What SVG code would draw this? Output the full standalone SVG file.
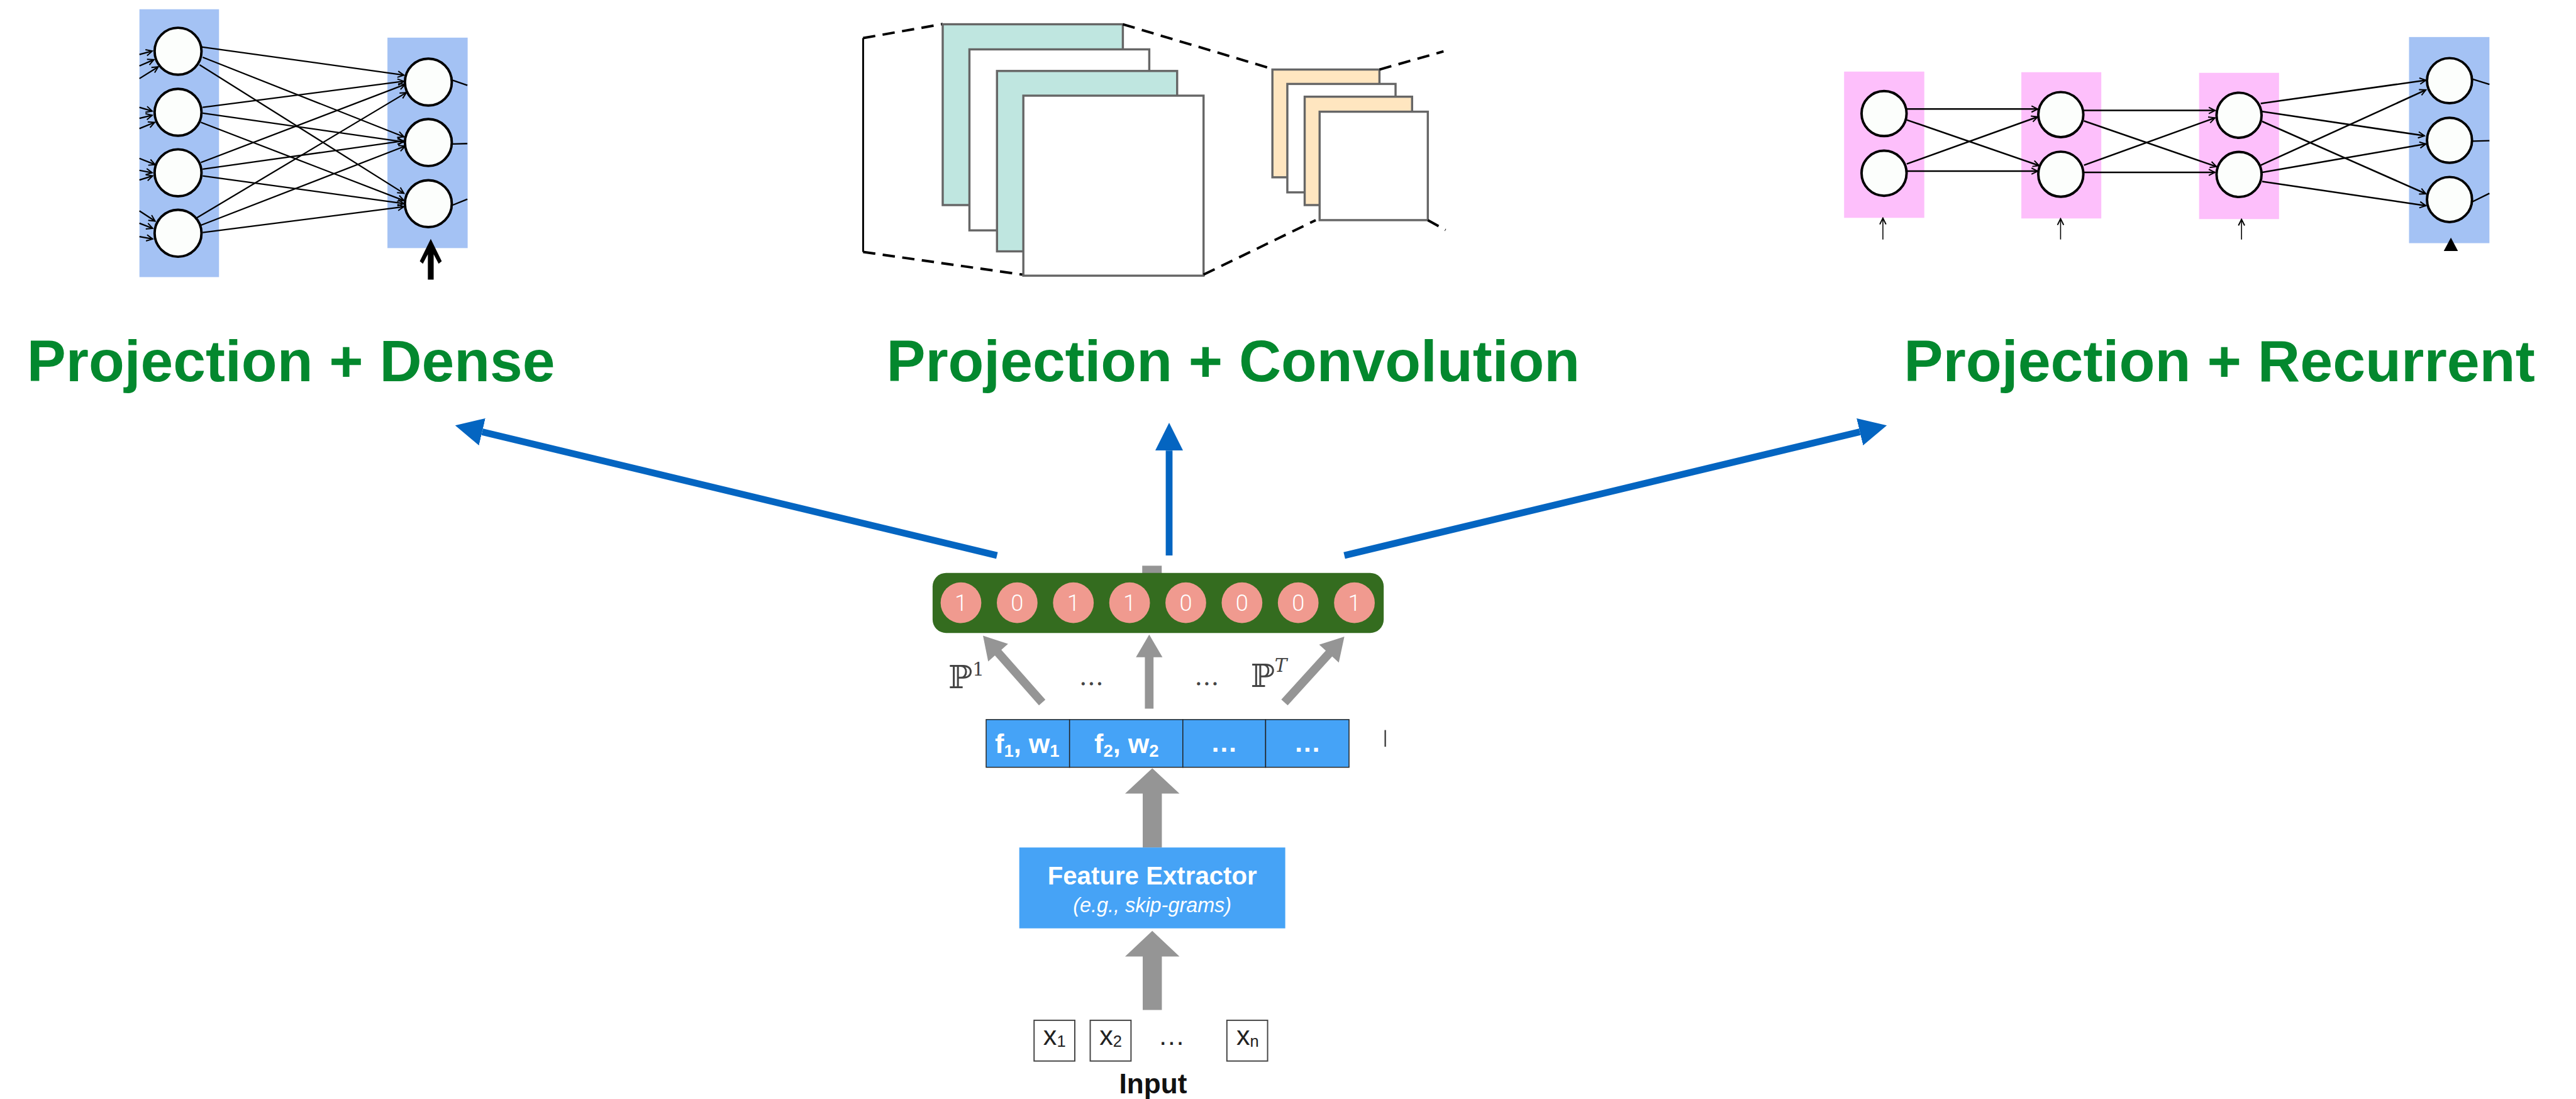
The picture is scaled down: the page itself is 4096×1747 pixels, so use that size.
<svg xmlns="http://www.w3.org/2000/svg" width="4096" height="1747" viewBox="0 0 4096 1747">
<defs>
<style>
  .title{font-family:"Liberation Sans",Arial,sans-serif;font-weight:bold;font-size:95px;fill:#03882E}
  .neuron{fill:#FCFEFC;stroke:#000;stroke-width:4}
  .edge{stroke:#000;stroke-width:2.3;fill:none;marker-end:url(#vhead)}
  .edge3{stroke:#000;stroke-width:2.6;fill:none;marker-end:url(#vhead)}
  .thin{stroke:#000;stroke-width:1.6;fill:none;marker-end:url(#vhead)}
  .stub{stroke:#000;stroke-width:2.4;fill:none}
  .dense-bg{fill:#A4C2F4}
  .rnn-bg{fill:#FDBFFB}
  .fmap-g{fill:#BFE6E0;stroke:#666;stroke-width:3.5}
  .fmap-o{fill:#FFE6C0;stroke:#666;stroke-width:3.5}
  .fmap-w{fill:#FFFFFF;stroke:#666;stroke-width:3.5}
  .dash{stroke:#000;stroke-width:4;stroke-dasharray:20 12;fill:none}
  .proj{stroke:#0465C1;stroke-width:11;fill:none;marker-end:url(#bhead)}
  .gray{fill:#959595}
  .bit{fill:#F09A8F}
  .bit-t{font-family:Roboto,"Liberation Sans",sans-serif;font-weight:300;font-size:37px;fill:#FFFFFF;text-anchor:middle}
  .cell{fill:#45A3F7;stroke:#222;stroke-width:1.5}
  .cell-t{font-family:"Liberation Sans",Arial,sans-serif;font-weight:bold;font-size:44px;fill:#FFFFFF;text-anchor:middle}
  .math{font-family:"DejaVu Serif","DejaVu Sans",serif;fill:#444}
  .in-box{fill:#FFFFFF;stroke:#444;stroke-width:2}
  .in-t{font-family:"Liberation Sans",Arial,sans-serif;font-size:44px;fill:#222}
</style>
<marker id="vhead" markerUnits="userSpaceOnUse" markerWidth="14" markerHeight="14" viewBox="-2 -2 14 14" refX="10" refY="5" orient="auto">
  <path d="M0,0 L10,5 L0,10" fill="none" stroke="#000" stroke-width="2"/>
</marker>
<marker id="bhead" markerUnits="userSpaceOnUse" markerWidth="46" markerHeight="46" viewBox="0 0 46 46" refX="0" refY="22.5" orient="auto">
  <path d="M0,0 L45,22.5 L0,45 Z" fill="#0465C1"/>
</marker>
</defs>

<g transform="scale(0.981)">

<!-- Dense network sketch -->
<g id="dense-net">
  <rect class="dense-bg" x="226" y="15" width="129" height="434"/>
  <rect class="dense-bg" x="628" y="61" width="130" height="341"/>
  <g>
    <line class="edge" x1="226" y1="88.3" x2="246.7" y2="82.7"/>
    <line class="edge" x1="226" y1="106.7" x2="249.4" y2="96.7"/>
    <line class="edge" x1="226" y1="127.3" x2="256.5" y2="108.3"/>
    <line class="edge" x1="226" y1="174" x2="246.7" y2="180"/>
    <line class="edge" x1="226" y1="191.7" x2="246.7" y2="186.7"/>
    <line class="edge" x1="226" y1="208.3" x2="250.6" y2="198.3"/>
    <line class="edge" x1="226" y1="256.7" x2="251.4" y2="266.7"/>
    <line class="edge" x1="226" y1="276" x2="246.7" y2="280"/>
    <line class="edge" x1="226" y1="291.7" x2="247.4" y2="285"/>
    <line class="edge" x1="226" y1="341.7" x2="251.4" y2="358.3"/>
    <line class="edge" x1="226" y1="361.7" x2="247.4" y2="370"/>
    <line class="edge" x1="226" y1="383.3" x2="247.4" y2="387.3"/>

    <line class="edge" x1="326.5" y1="76" x2="654.7" y2="121.7"/>
    <line class="edge" x1="328.5" y1="92.7" x2="654.7" y2="221.7"/>
    <line class="edge" x1="323.4" y1="105" x2="654.7" y2="313.3"/>
    <line class="edge" x1="328.5" y1="174" x2="654.7" y2="131.7"/>
    <line class="edge" x1="328.5" y1="183.3" x2="654.7" y2="230"/>
    <line class="edge" x1="325.7" y1="198.3" x2="654.7" y2="325"/>
    <line class="edge" x1="325.7" y1="263.3" x2="656.7" y2="136.7"/>
    <line class="edge" x1="328.5" y1="274" x2="654.7" y2="228.3"/>
    <line class="edge" x1="328.5" y1="285" x2="654.7" y2="330"/>
    <line class="edge" x1="318.6" y1="353.3" x2="658.7" y2="150"/>
    <line class="edge" x1="325.7" y1="365" x2="656.7" y2="236.7"/>
    <line class="edge" x1="328.5" y1="376.7" x2="654.7" y2="335"/>

    <line class="stub" x1="733.8" y1="130" x2="757.5" y2="138.3"/>
    <line class="stub" x1="733.8" y1="233.3" x2="757.5" y2="232.7"/>
    <line class="stub" x1="733.8" y1="332.3" x2="757.5" y2="322.7"/>
  </g>
  <circle class="neuron" cx="288.6" cy="83" r="38"/>
  <circle class="neuron" cx="288.6" cy="182" r="38"/>
  <circle class="neuron" cx="288.6" cy="280" r="38"/>
  <circle class="neuron" cx="288.6" cy="378" r="38"/>
  <circle class="neuron" cx="694.3" cy="133" r="38"/>
  <circle class="neuron" cx="694.3" cy="231" r="38"/>
  <circle class="neuron" cx="694.3" cy="330" r="38"/>
  <path d="M698.2,387 L716,423.3 L711,427.3 L702.9,412 L702.9,453 L693.5,453 L693.5,412 L685.4,427.3 L680.4,423.3 Z" fill="#000"/>
</g>

<!-- Convolution feature maps -->
<g id="conv-net">
  <line x1="1399" y1="61.7" x2="1399" y2="408.3" stroke="#000" stroke-width="3"/>
  <line class="dash" x1="1399" y1="61.7" x2="1528" y2="39"/>
  <line class="dash" x1="1399" y1="408.3" x2="1657.4" y2="445"/>
  <rect class="fmap-g" x="1528" y="39.3" width="292" height="293"/>
  <rect class="fmap-w" x="1571.3" y="80" width="291.5" height="293.3"/>
  <rect class="fmap-g" x="1616" y="115" width="292" height="292.3"/>
  <rect class="fmap-w" x="1658.7" y="155" width="292.1" height="291.7"/>
  <line class="dash" x1="1820" y1="39.3" x2="2062.4" y2="111.7"/>
  <line class="dash" x1="1950.8" y1="445" x2="2132.6" y2="356.7"/>
  <rect class="fmap-o" x="2062.4" y="112.7" width="173.5" height="174.6"/>
  <rect class="fmap-w" x="2086.6" y="136" width="175.4" height="175.7"/>
  <rect class="fmap-o" x="2114.7" y="156.7" width="174.1" height="175.6"/>
  <rect class="fmap-w" x="2138.9" y="181" width="175.4" height="175.7"/>
  <line class="dash" x1="2235.9" y1="112.7" x2="2339.8" y2="83.3"/>
  <line class="dash" x1="2314.3" y1="356.7" x2="2343" y2="372.7"/>
</g>

<!-- Recurrent network sketch -->
<g id="rnn-net">
  <rect class="rnn-bg" x="2989" y="116" width="130" height="237"/>
  <rect class="rnn-bg" x="3276.3" y="117" width="129.6" height="237"/>
  <rect class="rnn-bg" x="3564.4" y="118" width="129.6" height="237"/>
  <rect class="dense-bg" x="3904.7" y="60" width="130.3" height="334"/>
  <g>
    <line class="edge3" x1="3090.5" y1="176.7" x2="3302.8" y2="176.7"/>
    <line class="edge3" x1="3090.5" y1="194.3" x2="3305.2" y2="268.3"/>
    <line class="edge3" x1="3090.5" y1="265.7" x2="3302.8" y2="189.3"/>
    <line class="edge3" x1="3090.5" y1="277.3" x2="3302.8" y2="277.3"/>
    <line class="edge3" x1="3377.8" y1="179" x2="3590.1" y2="179"/>
    <line class="edge3" x1="3377.8" y1="196" x2="3592.5" y2="270"/>
    <line class="edge3" x1="3377.8" y1="267.7" x2="3590.1" y2="191"/>
    <line class="edge3" x1="3377.8" y1="279.3" x2="3590.1" y2="279.3"/>
    <line class="edge3" x1="3664.3" y1="167.7" x2="3932" y2="130"/>
    <line class="edge3" x1="3666.6" y1="180.7" x2="3929.7" y2="220"/>
    <line class="edge3" x1="3666.6" y1="196.7" x2="3932" y2="314"/>
    <line class="edge3" x1="3664.3" y1="267.7" x2="3932" y2="145.7"/>
    <line class="edge3" x1="3666.6" y1="279.3" x2="3932" y2="233.3"/>
    <line class="edge3" x1="3666.6" y1="294" x2="3932" y2="333.3"/>
    <line class="stub" x1="4007.8" y1="128.3" x2="4035" y2="136.7"/>
    <line class="stub" x1="4007.8" y1="228.7" x2="4035" y2="228"/>
    <line class="stub" x1="4007.8" y1="326.7" x2="4035" y2="313.3"/>
    <line class="thin" x1="3051.9" y1="388" x2="3051.9" y2="353.5"/>
    <line class="thin" x1="3339.9" y1="388" x2="3339.9" y2="354.5"/>
    <line class="thin" x1="3633.2" y1="388" x2="3633.2" y2="355.5"/>
  </g>
  <circle class="neuron" cx="3053.8" cy="184" r="36.5"/>
  <circle class="neuron" cx="3053.8" cy="280.7" r="36.5"/>
  <circle class="neuron" cx="3340.3" cy="185.7" r="36.5"/>
  <circle class="neuron" cx="3340.3" cy="282.3" r="36.5"/>
  <circle class="neuron" cx="3629.2" cy="186.7" r="36.5"/>
  <circle class="neuron" cx="3629.2" cy="282.7" r="36.5"/>
  <circle class="neuron" cx="3970.3" cy="130.7" r="36.5"/>
  <circle class="neuron" cx="3970.3" cy="227.3" r="36.5"/>
  <circle class="neuron" cx="3970.3" cy="323.3" r="36.5"/>
  <path d="M3972.6,385 L3984,406.7 L3961,406.7 Z" fill="#000"/>
</g>

<!-- Headings -->
<g id="titles">
  <text class="title" x="43.6" y="617.3" textLength="856" lengthAdjust="spacingAndGlyphs">Projection + Dense</text>
  <text class="title" x="1436.7" y="617.3" textLength="1124" lengthAdjust="spacingAndGlyphs">Projection + Convolution</text>
  <text class="title" x="3085.8" y="617.3" textLength="1023" lengthAdjust="spacingAndGlyphs">Projection + Recurrent</text>
</g>

<!-- Connectors -->
<g id="connectors">
  <line class="proj" x1="1616" y1="900" x2="781.5" y2="699.8"/>
  <line class="proj" x1="1895" y1="900" x2="1895" y2="730"/>
  <line class="proj" x1="2179" y1="900" x2="3014.5" y2="699.8"/>
  <rect class="gray" x="1851.4" y="916.7" width="31.6" height="12"/>
  <polygon class="gray" points="1593.3,1030 1633.9,1043.4 1623,1053.1 1694.4,1133.7 1684,1142.9 1612.6,1062.3 1601.7,1071.9"/>
  <polygon class="gray" points="1862.7,1028.3 1884.2,1065 1869.7,1065 1869.7,1148.3 1855.7,1148.3 1855.7,1065 1841.2,1065"/>
  <polygon class="gray" points="2179,1031.7 2170,1073.6 2159.3,1063.8 2087.2,1143 2076.8,1133.6 2148.9,1054.4 2138.2,1044.6"/>
  <polygon class="gray" points="1867.7,1245 1911.8,1286 1883.2,1286 1883.2,1373.3 1852.2,1373.3 1852.2,1286 1823.6,1286"/>
  <polygon class="gray" points="1867.7,1508.3 1911.8,1550 1883.2,1550 1883.2,1636.7 1852.2,1636.7 1852.2,1550 1823.6,1550"/>
</g>

<!-- Projected bit vector -->
<g id="projection-bar">
  <rect x="1511.6" y="928.3" width="731.2" height="97.4" rx="22" fill="#346C1F"/>
  <circle class="bit" cx="1557.6" cy="976.7" r="33"/>
  <circle class="bit" cx="1648.7" cy="976.7" r="33"/>
  <circle class="bit" cx="1739.8" cy="976.7" r="33"/>
  <circle class="bit" cx="1830.9" cy="976.7" r="33"/>
  <circle class="bit" cx="1922" cy="976.7" r="33"/>
  <circle class="bit" cx="2013.1" cy="976.7" r="33"/>
  <circle class="bit" cx="2104.2" cy="976.7" r="33"/>
  <circle class="bit" cx="2195.3" cy="976.7" r="33"/>
  <text class="bit-t" x="1557.6" y="990">1</text>
  <text class="bit-t" x="1648.7" y="990">0</text>
  <text class="bit-t" x="1739.8" y="990">1</text>
  <text class="bit-t" x="1830.9" y="990">1</text>
  <text class="bit-t" x="1922" y="990">0</text>
  <text class="bit-t" x="2013.1" y="990">0</text>
  <text class="bit-t" x="2104.2" y="990">0</text>
  <text class="bit-t" x="2195.3" y="990">1</text>
</g>

<!-- Projection labels -->
<g id="projection-labels">
  <text class="math" x="1537" y="1115" font-size="52">ℙ<tspan font-size="30" dy="-20">1</tspan></text>
  <text class="math" x="1769" y="1110" font-size="40" text-anchor="middle">…</text>
  <text class="math" x="1956" y="1110" font-size="40" text-anchor="middle">…</text>
  <text class="math" x="2027" y="1113" font-size="52">ℙ<tspan font-size="30" dy="-24" font-style="italic">T</tspan></text>
</g>

<!-- Feature / weight cells -->
<g id="feature-cells">
  <rect class="cell" x="1598.4" y="1166" width="135.2" height="77.3"/>
  <rect class="cell" x="1733.6" y="1166" width="183.6" height="77.3"/>
  <rect class="cell" x="1917.2" y="1166" width="134.2" height="77.3"/>
  <rect class="cell" x="2051.4" y="1166" width="135.2" height="77.3"/>
  <text class="cell-t" x="1665" y="1220">f<tspan font-size="28" dy="6">1</tspan><tspan dy="-6">, w</tspan><tspan font-size="28" dy="6">1</tspan></text>
  <text class="cell-t" x="1826" y="1220">f<tspan font-size="28" dy="6">2</tspan><tspan dy="-6">, w</tspan><tspan font-size="28" dy="6">2</tspan></text>
  <text class="cell-t" x="1984" y="1218">…</text>
  <text class="cell-t" x="2119" y="1218">…</text>
  <line x1="2245.3" y1="1183" x2="2245.3" y2="1210" stroke="#444" stroke-width="2.5"/>
</g>

<!-- Feature extractor -->
<g id="feature-extractor">
  <rect x="1652.1" y="1373.3" width="431.1" height="131" fill="#46A3F6"/>
  <text x="1867.7" y="1433.3" font-family="Liberation Sans, Arial, sans-serif" font-weight="bold" font-size="41" fill="#FFFFFF" text-anchor="middle">Feature Extractor</text>
  <text x="1867.7" y="1478.3" font-family="Liberation Sans, Arial, sans-serif" font-style="italic" font-size="33" fill="#FFFFFF" text-anchor="middle">(e.g., skip-grams)</text>
</g>

<!-- Input tokens -->
<g id="input">
  <rect class="in-box" x="1676.1" y="1653.3" width="66" height="66"/>
  <rect class="in-box" x="1767.1" y="1653.3" width="66.1" height="66"/>
  <rect class="in-box" x="1988.6" y="1653.3" width="66" height="66"/>
  <text class="in-t" x="1691" y="1693.3">x<tspan font-size="26" dy="3.4">1</tspan></text>
  <text class="in-t" x="1782" y="1693.3">x<tspan font-size="26" dy="3.4">2</tspan></text>
  <text class="in-t" x="2004" y="1693.3">x<tspan font-size="26" dy="3.4">n</tspan></text>
  <text class="in-t" x="1899" y="1693" text-anchor="middle" font-size="40">…</text>
  <text x="1869" y="1771.7" font-family="Liberation Sans, Arial, sans-serif" font-weight="bold" font-size="45" fill="#111" text-anchor="middle">Input</text>
</g>

</g>
</svg>
